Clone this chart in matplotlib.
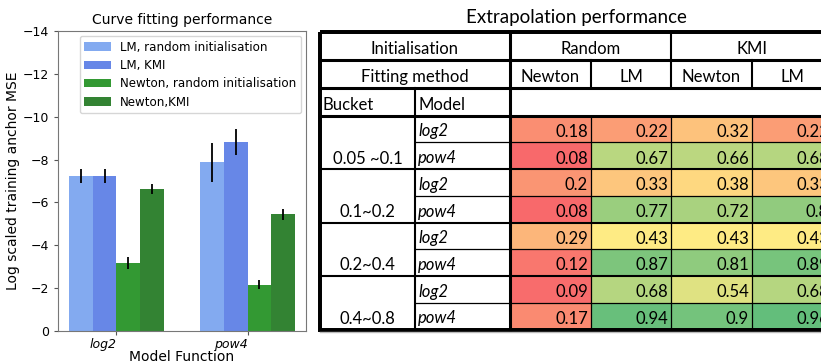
import numpy as np
import matplotlib
matplotlib.use('Agg')
from matplotlib import pyplot as plt
from matplotlib.colors import LinearSegmentedColormap, TwoSlopeNorm
from matplotlib.patches import Rectangle

# bar chart data
functions = ['log2', 'pow4']
series = ['LM, random initialisation', 'LM, KMI',
          'Newton, random initialisation', 'Newton,KMI']
lm_rand = [-7.25, -7.87]
lm_rand_err = [0.32, 0.92]
lm_kmi = [-7.25, -8.83]
lm_kmi_err = [0.32, 0.62]
newton_rand = [-3.18, -2.17]
newton_rand_err = [0.29, 0.23]
newton_kmi = [-6.63, -5.44]
newton_kmi_err = [0.23, 0.26]

# table data
buckets = ['0.05 ~0.1', '0.1~0.2', '0.2~0.4', '0.4~0.8']
models = ['log2', 'pow4']
inits = ['Random', 'KMI']
methods = ['Newton', 'LM']
newton_random = [0.18, 0.08, 0.2, 0.08, 0.29, 0.12, 0.09, 0.17]
lm_random = [0.22, 0.67, 0.33, 0.77, 0.43, 0.87, 0.68, 0.94]
newton_kmi_t = [0.32, 0.66, 0.38, 0.72, 0.43, 0.81, 0.54, 0.9]
lm_kmi_t = [0.22, 0.68, 0.33, 0.8, 0.43, 0.89, 0.68, 0.96]

W, H = 821, 362
fig = plt.figure(figsize=(W / 100, H / 100), dpi=100)

# ---- left: bar chart
ax = fig.add_axes([58 / W, 31 / H, 248 / W, 300 / H])
x = np.arange(len(functions))
w = 0.18
means = [lm_rand, lm_kmi, newton_rand, newton_kmi]
errs = [lm_rand_err, lm_kmi_err, newton_rand_err, newton_kmi_err]
cols = ['cornflowerblue', 'royalblue', 'green', 'darkgreen']
for i in range(4):
    ax.bar(x + (i - 1.5) * w, means[i], w, yerr=errs[i], color=cols[i],
           alpha=0.8, label=series[i], error_kw=dict(ecolor='black', lw=1.3))
ax.set_ylim(0, -14)
ax.set_yticks(np.arange(0, -15, -2))
ax.set_xticks(x)
ax.set_xticklabels(functions, style='italic', ha='right', fontsize=9)
ax.tick_params(labelsize=9, color='#555555', length=3)
ax.tick_params(axis='x', pad=2)
for s in ax.spines.values():
    s.set_color('#777777')
    s.set_linewidth(0.8)
ax.set_title('Curve fitting performance', fontsize=10, pad=5)
ax.set_ylabel('Log scaled training anchor MSE', fontsize=10, labelpad=2)
ax.set_xlabel('Model Function', fontsize=10, labelpad=-1)
ax.legend(loc='upper right', fontsize=8.6, handlelength=2.2,
          borderaxespad=0.4, labelspacing=0.45)

# ---- right: table with colour scale
tb = fig.add_axes([0, 0, 1, 1], zorder=-1)
tb.set_xlim(0, W)
tb.set_ylim(H, 0)
tb.axis('off')

col_edges = [320, 415, 510, 591, 671, 752, 832]
head_edges = [31.5, 60, 88, 115.5]
row_h = 26.75
n_rows = len(buckets) * len(models)
row_edges = [head_edges[-1] + k * row_h for k in range(n_rows + 1)]
right = col_edges[-1]
bottom = row_edges[-1]
fnt = ['Lato', 'DejaVu Sans']
fs = 12

cmap = LinearSegmentedColormap.from_list('rdylgn_xl', ['#F8696B', '#FFEB84', '#63BE7B'])
table_cols = [newton_random, lm_random, newton_kmi_t, lm_kmi_t]
allv = np.concatenate(table_cols)
norm = TwoSlopeNorm(vmin=allv.min(), vcenter=np.median(allv), vmax=allv.max())

thin, mid, thick = 0.9, 1.5, 2.2

for j, colv in enumerate(table_cols):
    x0, x1 = col_edges[2 + j], col_edges[3 + j]
    for r, v in enumerate(colv):
        y0, y1 = row_edges[r], row_edges[r + 1]
        tb.add_patch(Rectangle((x0, y0), x1 - x0, y1 - y0,
                               facecolor=cmap(norm(v)), edgecolor='none'))
        tb.text(x1 - 3, y1 - 2.5, f'{v:g}', ha='right', va='bottom',
                family=fnt, fontsize=fs)

# header texts
tb.text((col_edges[0] + col_edges[2]) / 2, head_edges[1] - 3, 'Initialisation',
        ha='center', va='bottom', family=fnt, fontsize=fs)
tb.text((col_edges[0] + col_edges[2]) / 2, head_edges[2] - 3, 'Fitting method',
        ha='center', va='bottom', family=fnt, fontsize=fs)
for k, name in enumerate(inits):
    tb.text((col_edges[2 + 2 * k] + col_edges[4 + 2 * k]) / 2, head_edges[1] - 3,
            name, ha='center', va='bottom', family=fnt, fontsize=fs)
    for m, meth in enumerate(methods):
        c = 2 + 2 * k + m
        tb.text((col_edges[c] + col_edges[c + 1]) / 2, head_edges[2] - 3, meth,
                ha='center', va='bottom', family=fnt, fontsize=fs)
tb.text(col_edges[0] + 2, head_edges[3] - 3, 'Bucket', ha='left', va='bottom',
        family=fnt, fontsize=fs)
tb.text(col_edges[1] + 3, head_edges[3] - 3, 'Model', ha='left', va='bottom',
        family=fnt, fontsize=fs)
for b, name in enumerate(buckets):
    yb = row_edges[2 * b + 2]
    tb.text((col_edges[0] + col_edges[1]) / 2, yb - 2.5, name, ha='center',
            va='bottom', family=fnt, fontsize=fs)
    for m, mod in enumerate(models):
        tb.text(col_edges[1] + 3, row_edges[2 * b + m + 1] - 3, mod, ha='left',
                va='bottom', family=fnt, fontsize=fs, style='italic')

# grid lines
def hline(y, xa, xb, lw):
    tb.plot([xa, xb], [y, y], color='black', lw=lw, solid_capstyle='projecting')

def vline(xv, ya, yb, lw):
    tb.plot([xv, xv], [ya, yb], color='black', lw=lw, solid_capstyle='projecting')

hline(head_edges[1], col_edges[0], right, thick)
hline(head_edges[2], col_edges[0], right, thick)
hline(head_edges[3], col_edges[0], right, thick)
for r in range(1, n_rows):
    if r % 2 == 0:
        hline(row_edges[r], col_edges[0], right, mid)
    else:
        hline(row_edges[r], col_edges[1], right, thin)
vline(col_edges[2], head_edges[0], bottom, thick)
vline(col_edges[4], head_edges[0], head_edges[2], mid)
for c in [3, 5]:
    vline(col_edges[c], head_edges[1], head_edges[2], mid)
    vline(col_edges[c], head_edges[3], bottom, thin)
vline(col_edges[4], head_edges[3], bottom, thin)
vline(col_edges[1], head_edges[2], bottom, mid)
# faint shadow under the table
tb.plot([col_edges[0], W], [bottom + 2.5, bottom + 2.5], color='#bbbbbb', lw=1)
tb.add_patch(Rectangle((col_edges[0], head_edges[0]), right - col_edges[0],
                       bottom - head_edges[0], facecolor='none',
                       edgecolor='black', lw=thick * 1.3))

tb.text((col_edges[0] + right) / 2, 18, 'Extrapolation performance', ha='center',
        va='center', family=fnt, fontsize=13.5)

fig.savefig('out.png', dpi=100)
